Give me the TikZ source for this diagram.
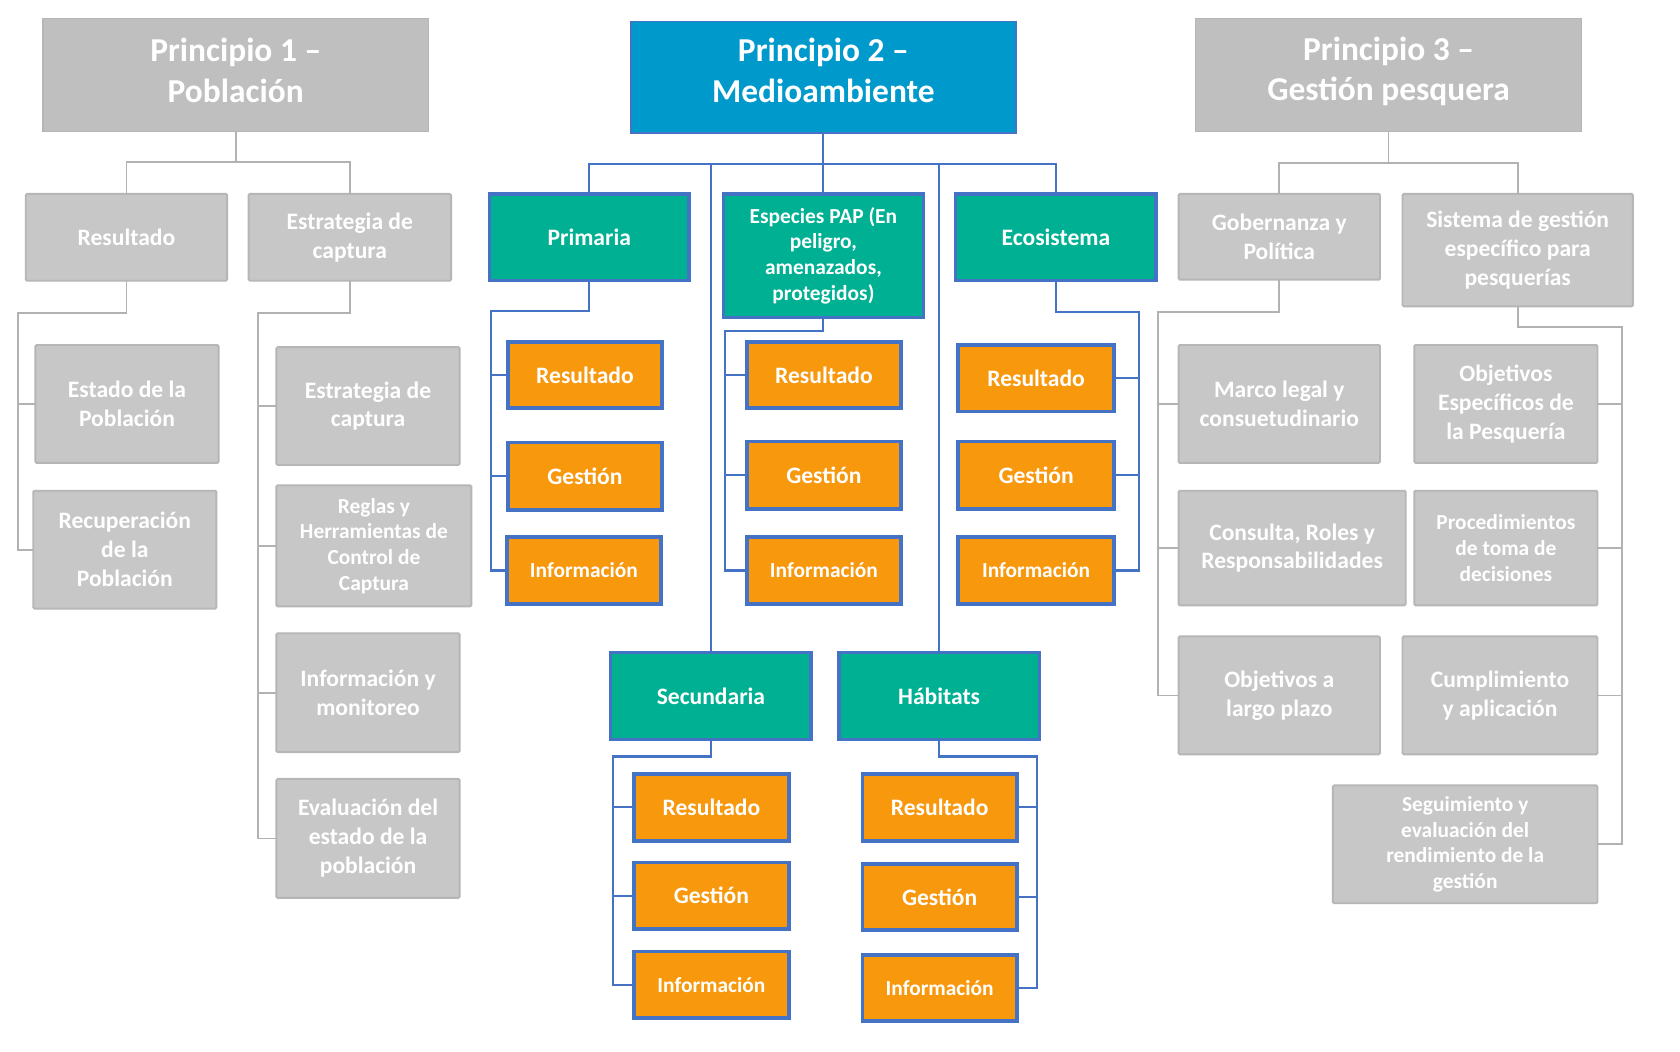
\documentclass[tikz,border=0pt]{standalone}
\usepackage{fontspec}
\setmainfont{Carlito}
\usetikzlibrary{calc}
\definecolor{topgray}{RGB}{191,191,191}
\definecolor{boxgray}{RGB}{199,199,199}
\definecolor{edgegray}{RGB}{182,182,182}
\definecolor{linegray}{RGB}{178,178,178}
\definecolor{ptwoblue}{RGB}{0,153,204}
\definecolor{lineblue}{RGB}{68,114,196}
\definecolor{greenbox}{RGB}{0,176,146}
\definecolor{orangebox}{RGB}{247,152,13}
\newcommand\mybox[7]{%
  \pgfmathsetmacro\mycx{(#3+#5)/2}%
  \pgfmathsetmacro\mycy{(#4+#6)/2}%
  \pgfmathsetmacro\myww{(#5-#3)*0.5}%
  \pgfmathsetmacro\myhh{(#6-#4)*0.5}%
  \node[#1, minimum width=\myww pt, minimum height=\myhh pt] (#2) at (\mycx,\mycy) {#7};}
\tikzset{
  base/.style={text=white, align=center, inner sep=0pt, outer sep=0pt, font=\fontsize{11}{13.5}\selectfont\bfseries},
  gbox/.style={base, fill=boxgray, draw=edgegray, line width=0.9pt, rounded corners=0.6pt},
  gtop/.style={base, fill=topgray, draw=edgegray, line width=0.6pt},
  btop/.style={base, fill=ptwoblue, draw=lineblue, line width=0.8pt},
  titletext/.style={base, font=\fontsize{15.6}{19}\selectfont\bfseries},
  tbox/.style={base, fill=greenbox, draw=lineblue, line width=1.5pt},
  obox/.style={base, fill=orangebox, draw=lineblue, line width=1.8pt},
  smalltxt/.style={font=\fontsize{10}{12}\selectfont\bfseries},
  gline/.style={draw=linegray, line width=0.8pt},
  bline/.style={draw=lineblue, line width=1pt},
}
\begin{document}
\begin{tikzpicture}[x=0.5pt,y=-0.5pt]
\fill[white] (0,0) rectangle (1568,981);
\useasboundingbox (0,0) rectangle (1568,981);

% ---------- Principio 1 ----------
\mybox{gtop}{p1}{40}{17}{400}{123}{}
\node[titletext] (p1t) at ($(p1.center)+(0,-4.5)$) {Principio 1 –\\Población};
\mybox{gbox}{p1a}{24}{181}{212}{262}{Resultado}
\mybox{gbox}{p1b}{232}{181}{421}{262}{Estrategia de\\captura}
\mybox{gbox}{p1a1}{33}{322}{204}{432}{Estado de la\\Población}
\mybox{gbox}{p1a2}{31}{458}{202}{568}{Recuperación\\de la\\Población}
\mybox{gbox}{p1b1}{258}{324}{429}{434}{Estrategia de\\captura}
\mybox{gbox,smalltxt}{p1b2}{258}{453}{440}{566}{Reglas y\\Herramientas de\\Control de\\Captura}
\mybox{gbox}{p1b3}{258}{591}{429}{702}{Información y\\monitoreo}
\mybox{gbox}{p1b4}{258}{727}{429}{838}{Evaluación del\\estado de la\\población}

% ---------- Principio 2 ----------
\mybox{btop}{p2}{589}{20}{948}{124}{}
\node[titletext] (p2t) at ($(p2.center)+(0,-6)$) {Principio 2 –\\Medioambiente};
\mybox{tbox}{p2a}{457}{181}{643}{262}{Primaria}
\mybox{tbox,smalltxt}{p2b}{675}{181}{862}{296}{Especies PAP (En\\peligro,\\amenazados,\\protegidos)}
\mybox{tbox}{p2c}{892}{181}{1079}{262}{Ecosistema}
\mybox{tbox}{p2d}{570}{609}{757}{690}{Secundaria}
\mybox{tbox}{p2e}{783}{609}{970}{690}{Hábitats}

\mybox{obox}{p2a1}{474}{319}{618}{381}{Resultado}
\mybox{obox}{p2a2}{474}{413}{618}{476}{Gestión}
\mybox{obox,smalltxt}{p2a3}{473}{501}{617}{564}{Información}
\mybox{obox}{p2b1}{697}{319}{841}{381}{Resultado}
\mybox{obox}{p2b2}{697}{412}{841}{475}{Gestión}
\mybox{obox,smalltxt}{p2b3}{697}{501}{841}{564}{Información}
\mybox{obox}{p2c1}{894}{322}{1040}{384}{Resultado}
\mybox{obox}{p2c2}{894}{412}{1040}{475}{Gestión}
\mybox{obox,smalltxt}{p2c3}{894}{501}{1040}{564}{Información}
\mybox{obox}{p2d1}{592}{722}{736}{785}{Resultado}
\mybox{obox}{p2d2}{592}{805}{736}{867}{Gestión}
\mybox{obox,smalltxt}{p2d3}{592}{888}{736}{950}{Información}
\mybox{obox}{p2e1}{805}{722}{949}{785}{Resultado}
\mybox{obox}{p2e2}{805}{806}{949}{868}{Gestión}
\mybox{obox,smalltxt}{p2e3}{805}{891}{949}{953}{Información}

% ---------- Principio 3 ----------
\mybox{gtop}{p3}{1116}{17}{1476}{123}{}
\node[titletext] (p3t) at ($(p3.center)+(0,-3.5)$) {Principio 3 –\\Gestión pesquera};
\mybox{gbox}{p3a}{1100}{181}{1288}{261}{Gobernanza y\\Política}
\mybox{gbox}{p3b}{1309}{181}{1524}{286}{Sistema de gestión\\específico para\\pesquerías}
\mybox{gbox}{p3a1}{1100}{322}{1288}{432}{Marco legal y\\consuetudinario}
\mybox{gbox}{p3a2}{1100}{458}{1312}{565}{Consulta, Roles y\\Responsabilidades}
\mybox{gbox}{p3a3}{1100}{594}{1288}{704}{Objetivos a\\largo plazo}
\mybox{gbox}{p3b1}{1320}{322}{1491}{432}{Objetivos\\Específicos de\\la Pesquería}
\mybox{gbox,smalltxt}{p3b2}{1320}{458}{1491}{565}{Procedimientos\\de toma de\\decisiones}
\mybox{gbox}{p3b3}{1309}{594}{1491}{704}{Cumplimiento\\y aplicación}
\mybox{gbox,smalltxt}{p3b4}{1244}{733}{1491}{843}{Seguimiento y\\evaluación del\\rendimiento de la\\gestión}

% ---------- rail coordinates ----------
\coordinate (h1) at (220,151);
\coordinate (h2) at (769,153);
\coordinate (h3) at (1296,152);
\coordinate (r1a) at (17,292);
\coordinate (r1b) at (241,292);
\coordinate (r2a) at (458,290);
\coordinate (r2b) at (677,309);
\coordinate (r2c) at (1063,291);
\coordinate (r2d) at (572,706);
\coordinate (r2e) at (968,706);
\coordinate (r3a) at (1081,291);
\coordinate (r3b) at (1514,305);

% ---------- connectors P1 ----------
\draw[gline] (p1.south) -- (h1);
\draw[gline] (p1a.north) |- (h1) -| (p1b.north);
\draw[gline] (p1a.south) |- (r1a) |- (p1a2.west);
\draw[gline] (p1a1.west) -- (p1a1.west -| r1a);
\draw[gline] (p1b.south) |- (r1b) |- (p1b4.west);
\draw[gline] (p1b1.west) -- (p1b1.west -| r1b);
\draw[gline] (p1b2.west) -- (p1b2.west -| r1b);
\draw[gline] (p1b3.west) -- (p1b3.west -| r1b);

% ---------- connectors P2 ----------
\draw[bline] (p2.south) -- (p2b.north);
\draw[bline] (p2a.north) |- (h2) -| (p2c.north);
\draw[bline] (p2d.north) -- (p2d.north |- h2);
\draw[bline] (p2e.north) -- (p2e.north |- h2);
\draw[bline] (p2a.south) |- (r2a) |- (p2a3.west);
\draw[bline] (p2a1.west) -- (p2a1.west -| r2a);
\draw[bline] (p2a2.west) -- (p2a2.west -| r2a);
\draw[bline] (p2b.south) |- (r2b) |- (p2b3.west);
\draw[bline] (p2b1.west) -- (p2b1.west -| r2b);
\draw[bline] (p2b2.west) -- (p2b2.west -| r2b);
\draw[bline] (p2c.south) |- (r2c) |- (p2c3.east);
\draw[bline] (p2c1.east) -- (p2c1.east -| r2c);
\draw[bline] (p2c2.east) -- (p2c2.east -| r2c);
\draw[bline] (p2d.south) |- (r2d) |- (p2d3.west);
\draw[bline] (p2d1.west) -- (p2d1.west -| r2d);
\draw[bline] (p2d2.west) -- (p2d2.west -| r2d);
\draw[bline] (p2e.south) |- (r2e) |- (p2e3.east);
\draw[bline] (p2e1.east) -- (p2e1.east -| r2e);
\draw[bline] (p2e2.east) -- (p2e2.east -| r2e);

% ---------- connectors P3 ----------
\draw[gline] (p3.south) -- (h3);
\draw[gline] (p3a.north) |- (h3) -| (p3b.north);
\draw[gline] (p3a.south) |- (r3a) |- (p3a3.west);
\draw[gline] (p3a1.west) -- (p3a1.west -| r3a);
\draw[gline] (p3a2.west) -- (p3a2.west -| r3a);
\draw[gline] (p3b.south) |- (r3b) |- (p3b4.east);
\draw[gline] (p3b1.east) -- (p3b1.east -| r3b);
\draw[gline] (p3b2.east) -- (p3b2.east -| r3b);
\draw[gline] (p3b3.east) -- (p3b3.east -| r3b);
\end{tikzpicture}
\end{document}
